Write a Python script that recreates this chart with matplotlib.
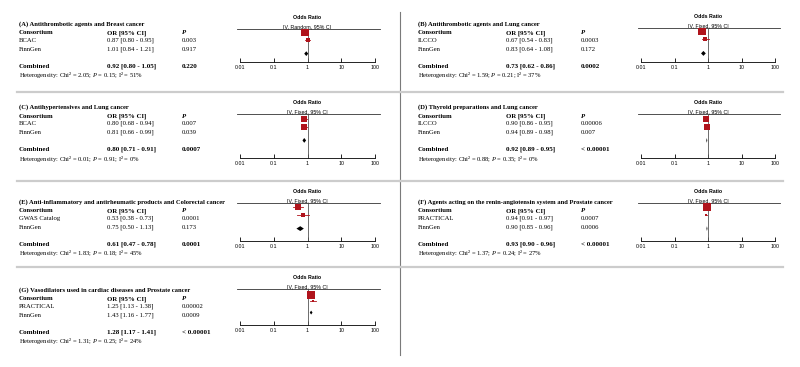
import numpy as np
import matplotlib
matplotlib.use("Agg")
import matplotlib.pyplot as plt
from matplotlib.patches import Polygon

plt.rcParams['mathtext.fontset'] = 'custom'
plt.rcParams['mathtext.rm'] = 'Liberation Serif'
plt.rcParams['mathtext.it'] = 'Liberation Serif:italic'
plt.rcParams['mathtext.bf'] = 'Liberation Serif:bold'

# ---- data ----
titles = [
    "(A) Antithrombotic agents and Breast cancer",
    "(B) Antithrombotic agents and Lung cancer",
    "(C) Antihypertensives and Lung cancer",
    "(D) Thyroid preparations and Lung cancer",
    "(E) Anti-inflammatory and antirheumatic products and Colorectal cancer",
    "(F) Agents acting on the renin-angiotensin system and Prostate cancer",
    "(G) Vasodilators used in cardiac diseases and Prostate cancer",
]
methods = ["IV, Random, 95% CI", "IV, Fixed, 95% CI", "IV, Fixed, 95% CI", "IV, Fixed, 95% CI",
           "IV, Fixed, 95% CI", "IV, Fixed, 95% CI", "IV, Fixed, 95% CI"]
consortia = [["BCAC", "FinnGen"], ["ILCCO", "FinnGen"], ["BCAC", "FinnGen"], ["ILCCO", "FinnGen"],
             ["GWAS Catalog", "FinnGen"], ["PRACTICAL", "FinnGen"], ["PRACTICAL", "FinnGen"]]
or_est = [[0.87, 1.01], [0.67, 0.83], [0.80, 0.81], [0.90, 0.94], [0.53, 0.75], [0.94, 0.90], [1.25, 1.43]]
ci_lo = [[0.80, 0.84], [0.54, 0.64], [0.68, 0.66], [0.86, 0.89], [0.38, 0.50], [0.91, 0.85], [1.13, 1.16]]
ci_hi = [[0.95, 1.21], [0.83, 1.08], [0.94, 0.99], [0.95, 0.98], [0.73, 1.13], [0.97, 0.96], [1.38, 1.77]]
p_vals = [["0.003", "0.917"], ["0.0003", "0.172"], ["0.007", "0.039"], ["0.00006", "0.007"],
          ["0.0001", "0.173"], ["0.0007", "0.0006"], ["0.00002", "0.0009"]]
weights = [[80, 20], [78, 22], [55, 45], [52, 48], [68, 32], [90, 10], [93, 7]]
comb_est = [0.92, 0.73, 0.80, 0.92, 0.61, 0.93, 1.28]
comb_lo = [0.80, 0.62, 0.71, 0.89, 0.47, 0.90, 1.17]
comb_hi = [1.05, 0.86, 0.91, 0.95, 0.78, 0.96, 1.41]
comb_p = ["0.220", "0.0002", "0.0007", "< 0.00001", "0.0001", "< 0.00001", "< 0.00001"]
het_chi = ["2.05", "1.59", "0.01", "0.88", "1.83", "1.37", "1.31"]
het_p = ["0.15", "0.21", "0.91", "0.35", "0.18", "0.24", "0.25"]
het_i2 = ["51%", "37%", "0%", "0%", "45%", "27%", "24%"]

# ---- layout (pixels) ----
W, H = 800, 367
col_x = [19, 418, 19, 418, 19, 418, 19]
title_y = [24, 24, 107, 107, 202, 202, 290]
forest_x = [(240, 375), (641, 775)] * 4
forest_top = [29, 28, 114, 114, 203, 203, 289]
forest_bot = [62, 62, 158, 158, 241, 241, 325]
forest_ylim = [(4.75, 0.6), (4.75, 0.6), (5.9, 0.4), (5.9, 0.4), (5.25, 0.5), (5.25, 0.5), (5.6, 0.1)]
diamond_y = 3.7
red = '#b0141c'
serif = 'Liberation Serif'
sans = 'Liberation Sans'

fig = plt.figure(figsize=(8, 3.67), dpi=100)
bg = fig.add_axes([0, 0, 1, 1])
bg.set_xlim(0, W)
bg.set_ylim(H, 0)
bg.axis('off')

# separators
bg.plot([400, 400], [12, 355], color='#7a7a7a', lw=0.8)
for y in [92, 181, 267]:
    bg.plot([17, 400], [y, y], color='#cccccc', lw=1.6)
    bg.plot([400, 783], [y, y], color='#cccccc', lw=1.6)

for i in range(len(titles)):
    x0 = col_x[i]
    ty = title_y[i]
    xo = x0 + 88
    xp = x0 + 163
    bg.text(x0, ty, titles[i], fontsize=4.7, family=serif, va='center', fontweight='bold')
    bg.text(x0, ty + 9, "Consortium", fontsize=4.9, family=serif, va='center', fontweight='bold')
    bg.text(xo, ty + 9, "OR [95% CI]", fontsize=4.9, family=serif, va='center', fontweight='bold')
    bg.text(xp, ty + 9, "P", fontsize=4.9, family=serif, va='center', fontweight='bold', style='italic')
    for j in range(2):
        yy = ty + 16.5 + 9 * j
        bg.text(x0, yy, consortia[i][j], fontsize=4.8, family=serif, va='center')
        bg.text(xo, yy, f"{or_est[i][j]:.2f} [{ci_lo[i][j]:.2f} - {ci_hi[i][j]:.2f}]",
                fontsize=4.8, family=serif, va='center')
        bg.text(xp, yy, p_vals[i][j], fontsize=4.8, family=serif, va='center')
    yc = ty + 42.5
    bg.text(x0, yc, "Combined", fontsize=5.0, family=serif, va='center', fontweight='bold')
    bg.text(xo, yc, f"{comb_est[i]:.2f} [{comb_lo[i]:.2f} - {comb_hi[i]:.2f}]",
            fontsize=5.0, family=serif, va='center', fontweight='bold')
    bg.text(xp, yc, comb_p[i], fontsize=5.0, family=serif, va='center', fontweight='bold')
    bg.text(x0, yc + 9, f"Heterogeneity: Chi² = {het_chi[i]}; $P$ = {het_p[i]}; I² = {het_i2[i]}",
            fontsize=4.7, family=serif, va='center')

    # forest plot
    fx0, fx1 = forest_x[i]
    top, bot = forest_top[i], forest_bot[i]
    ax = fig.add_axes([fx0 / W, 1 - bot / H, (fx1 - fx0) / W, (bot - top) / H])
    ax.set_xscale('log')
    ax.set_xlim(0.01, 100)
    ax.set_ylim(*forest_ylim[i])
    ax.patch.set_alpha(0)
    for s in ['left', 'right', 'top']:
        ax.spines[s].set_visible(False)
    ax.spines['bottom'].set_linewidth(0.6)
    ax.set_yticks([])
    ax.set_xticks([0.01, 0.1, 1, 10, 100])
    ax.set_xticklabels(["0.01", "0.1", "1", "10", "100"], family=sans)
    ax.xaxis.set_minor_locator(matplotlib.ticker.NullLocator())
    ax.tick_params(axis='x', direction='in', length=3, width=0.6, labelsize=3.8, pad=2)
    ax.plot([-0.022, 1.04], [1, 1], transform=ax.transAxes, color='#333333', lw=0.6, clip_on=False)
    ax.axvline(1, color='#555555', lw=0.6)
    ax.text(0.5, 1.0, methods[i], transform=ax.transAxes, ha='center', va='bottom',
            fontsize=3.8, family=sans)
    ax.text(0.5, 1.0 + 9.0 / (bot - top), "Odds Ratio", transform=ax.transAxes, ha='center',
            va='bottom', fontsize=3.8, family=sans, fontweight='bold')
    for j in range(2):
        yy = j + 1
        ax.plot([ci_lo[i][j], ci_hi[i][j]], [yy, yy], color=red, lw=0.6)
        side = 0.8 * np.sqrt(weights[i][j]) * 0.72
        ax.plot(or_est[i][j], yy, marker='s', ms=side, color=red, mec=red, mew=0)
    dh = 0.3
    ax.add_patch(Polygon([[comb_lo[i], diamond_y], [comb_est[i], diamond_y - dh],
                          [comb_hi[i], diamond_y], [comb_est[i], diamond_y + dh]],
                         closed=True, color='black', lw=0))

fig.savefig("out.png", dpi=100)
